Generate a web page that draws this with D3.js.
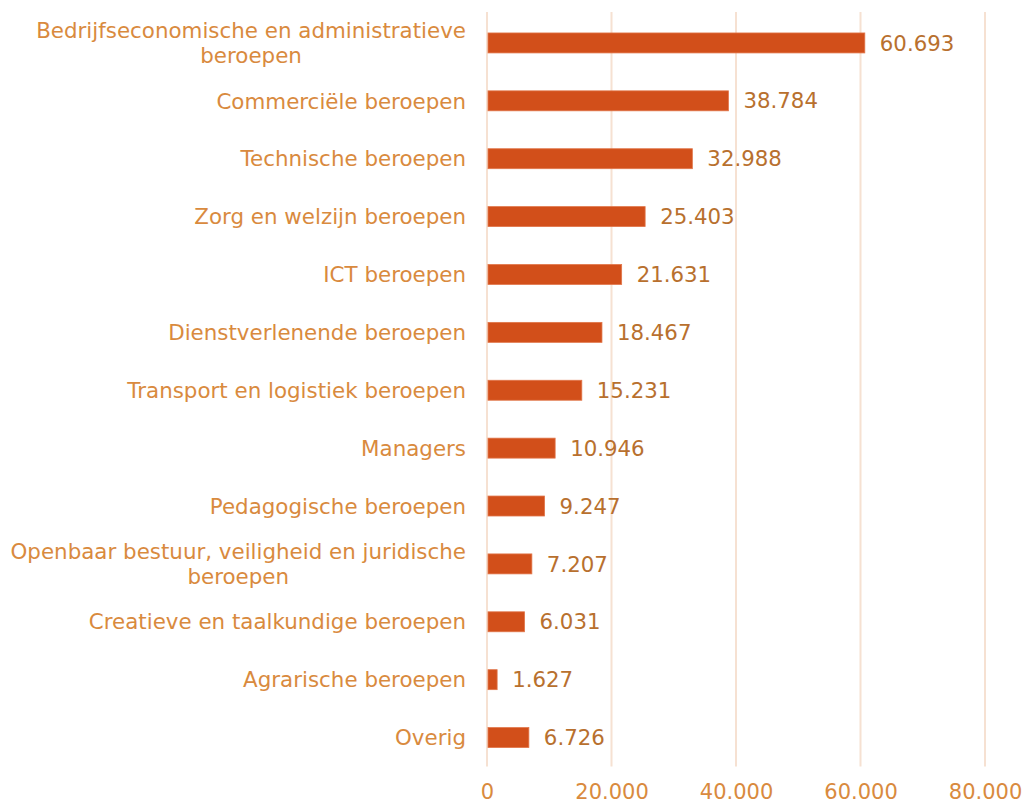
<!DOCTYPE html>
<html>
<head>
<meta charset="utf-8">
<script src="https://cdn.jsdelivr.net/npm/d3@7"></script>
<style>
  html, body { margin: 0; padding: 0; background: #ffffff; }
  svg { display: block; }
  text { font-family: "DejaVu Sans", Verdana, sans-serif; }
</style>
</head>
<body>
<svg id="chart" width="1025" height="805"></svg>
<script>
// Beroepsgroepen (each entry may hold several lines) and their aantallen
const categories = [
  ["Bedrijfseconomische en administratieve", "beroepen"],
  ["Commerciële beroepen"],
  ["Technische beroepen"],
  ["Zorg en welzijn beroepen"],
  ["ICT beroepen"],
  ["Dienstverlenende beroepen"],
  ["Transport en logistiek beroepen"],
  ["Managers"],
  ["Pedagogische beroepen"],
  ["Openbaar bestuur, veiligheid en juridische", "beroepen"],
  ["Creatieve en taalkundige beroepen"],
  ["Agrarische beroepen"],
  ["Overig"]
];
const values = [60693, 38784, 32988, 25403, 21631, 18467, 15231, 10946, 9247, 7207, 6031, 1627, 6726];
const tickValues = [0, 20000, 40000, 60000, 80000];

const svg = d3.select("#chart");
const margin = { top: 14, left: 487 };
const plotRight = 985;
const plotBottom = 766.5;

const fmt = n => d3.format(",")(n).replace(/,/g, ".");

const x = d3.scaleLinear().domain([0, 80000]).range([margin.left, plotRight]);
const y = d3.scaleBand()
  .domain(d3.range(categories.length))
  .range([margin.top, plotBottom])
  .paddingInner(0.655)
  .paddingOuter(0.3275);

// Vertical gridlines
svg.append("g")
  .selectAll("line")
  .data(tickValues)
  .join("line")
  .attr("x1", d => x(d)).attr("x2", d => x(d))
  .attr("y1", margin.top - 2).attr("y2", plotBottom)
  .attr("stroke", "#f6e1d2")
  .attr("stroke-width", 2);

// Bars
svg.append("g")
  .selectAll("rect")
  .data(values)
  .join("rect")
  .attr("x", x(0) + 1)
  .attr("y", (d, i) => y(i))
  .attr("width", d => x(d) - x(0) - 1)
  .attr("height", y.bandwidth())
  .attr("fill", "#d24f1a")
  .attr("stroke", "#e1764a")
  .attr("stroke-width", 0.8);

// Value labels
svg.append("g")
  .selectAll("text")
  .data(values)
  .join("text")
  .attr("x", d => x(d) + 15)
  .attr("y", (d, i) => y(i) + y.bandwidth() / 2)
  .attr("dy", "0.36em")
  .attr("font-size", 21.3)
  .attr("fill", "#b8702e")
  .text(d => fmt(d));

// Category labels: right-aligned block, lines centred within the block
const labelRight = 466;
const lineH = 25.5;
const labelG = svg.append("g");
categories.forEach((lines, i) => {
  const cy = y(i) + y.bandwidth() / 2;
  const t = labelG.append("text")
    .attr("font-size", 21.4)
    .attr("fill", "#d98a3e");
  lines.forEach((ln, k) => {
    t.append("tspan")
      .attr("y", cy + (k - (lines.length - 1) / 2) * lineH)
      .attr("dy", "0.36em")
      .text(ln);
  });
  if (lines.length === 1) {
    t.attr("text-anchor", "end");
    t.selectAll("tspan").attr("x", labelRight);
  } else {
    let w = 0;
    t.selectAll("tspan").each(function () { w = Math.max(w, this.getComputedTextLength()); });
    t.attr("text-anchor", "middle");
    t.selectAll("tspan").attr("x", labelRight - w / 2);
  }
});

// X axis tick labels
const xAxis = d3.axisBottom(x)
  .tickValues(tickValues)
  .tickSize(0)
  .tickPadding(18)
  .tickFormat(fmt);
const ax = svg.append("g")
  .attr("transform", `translate(0,${plotBottom})`)
  .call(xAxis);
ax.select(".domain").remove();
ax.selectAll("text")
  .attr("font-size", 21)
  .attr("font-family", "DejaVu Sans, Verdana, sans-serif")
  .attr("fill", "#d98a3e");
</script>
</body>
</html>
